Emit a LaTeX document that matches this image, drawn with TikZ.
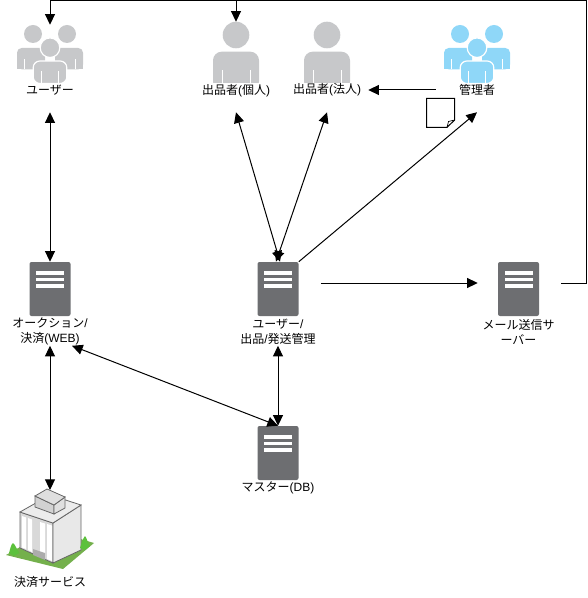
\documentclass[tikz,border=0pt]{standalone}
\usepackage{fontspec}
\setmainfont{Liberation Sans}
\newfontfamily\cjk{Noto Sans CJK JP}
\usetikzlibrary{arrows.meta,shapes.geometric}
\definecolor{srvgray}{HTML}{6D6E71}
\definecolor{usrgray}{HTML}{C7C8CA}
\definecolor{admblue}{HTML}{8FD7F8}
\definecolor{lawn}{HTML}{74B04C}
\definecolor{leaf}{HTML}{5CC13C}
\tikzset{
  lbl/.style={font=\fontsize{9pt}{11.25pt}\selectfont,align=center,inner sep=0pt,minimum width=61.5pt,minimum height=21pt},
  srvbox/.style={fill=srvgray,rounded corners=1.5pt,inner sep=0pt,minimum width=30.75pt,minimum height=40.5pt,
    path picture={\foreach \yy in {-17.7,-11.2,-4.7}{\fill[white,sharp corners] ([shift={(-14,\yy)}]path picture bounding box.center) rectangle ++(28,3.5);}}},
  iconbox/.style={inner sep=0pt,minimum width=49.5pt},
  oneway/.style={draw,line width=0.75pt,-{Triangle[length=8pt,width=7.5pt]}},
  twoway/.style={draw,line width=0.75pt,{Triangle[length=8pt,width=7.5pt]}-{Triangle[length=8pt,width=7.5pt]}},
  pics/group/.style={code={
    \fill[#1] (-17,34) circle (9);
    \fill[#1] (17,34) circle (9);
    \fill[#1,rounded corners=3.5pt] (-33,69.3) -- (-33,48) -- (-5,48) -- (-5,69.3) -- cycle;
    \fill[#1,rounded corners=3.5pt] (33,69.3) -- (33,48) -- (5,48) -- (5,69.3) -- cycle;
    \fill[#1,sharp corners] (-33,64) rectangle (-5,69.3);
    \fill[#1,sharp corners] (33,64) rectangle (5,69.3);
    \draw[white,line width=0.75pt] (-25.5,59) -- (-25.5,69.3) (25.5,59) -- (25.5,69.3);
    \filldraw[fill=#1,draw=white,line width=0.9pt,rounded corners=5pt] (-16.8,83.5) -- (-16.8,61) -- (16.8,61) -- (16.8,83.5) -- cycle;
    \fill[white] (-18,82.7) rectangle (18,85);
    \filldraw[fill=#1,draw=white,line width=0.9pt] (0,47.7) circle (9.8);
    \draw[white,line width=0.75pt] (-8.5,71) -- (-8.5,82.7) (8.5,71) -- (8.5,82.7);
  }},
  pics/single/.style={code={
    \fill[usrgray] (0,35) circle (13.3);
    \fill[usrgray,rounded corners=6.5pt] (-23,90) -- (-23,51.7) -- (23,51.7) -- (23,90) -- cycle;
    \fill[white] (-24,82.7) rectangle (24,91);
    \draw[white,line width=0.75pt] (-14,70) -- (-14,82.7) (14,70) -- (14,82.7);
  }}
}
\begin{document}
\begin{tikzpicture}[x=0.75pt,y=-0.75pt]
\useasboundingbox (0,0) rectangle (587,598);
\pic at (50,0) {group=usrgray};
\pic at (236,0) {single};
\pic at (327,0) {single};
\pic at (477,0) {group=admblue};
\node[iconbox,minimum height=65.25pt] (usr) at (50,68.5) {};
\node[iconbox,minimum height=67.5pt] (indv) at (236,67) {};
\node[iconbox,minimum height=67.5pt] (corp) at (327,67) {};
\node[iconbox,minimum height=67.5pt] (adm) at (477,67) {};
\node[lbl] (usrlbl) at (50,90.5) {{\cjk ユーザー}};
\node[lbl] (indvlbl) at (236,91) {{\cjk 出品者}({\cjk 個人})};
\node[lbl] (corplbl) at (327,90) {{\cjk 出品者}({\cjk 法人})};
\node[lbl] (admlbl) at (477,90) {{\cjk 管理者}};
\node[srvbox] (web) at (50,289) {};
\node[srvbox] (mgmt) at (278,289) {};
\node[srvbox] (mail) at (518.5,289) {};
\node[srvbox] (db) at (278,453) {};
\node[lbl] (weblbl) at (50,331.5) {{\cjk オークション}/\\{\cjk 決済}(WEB)};
\node[lbl] (mgmtlbl) at (278,331.5) {{\cjk ユーザー}/\\{\cjk 出品}/{\cjk 発送管理}};
\node[lbl] (maillbl) at (518.5,331.5) {{\cjk メール送信サ}\\{\cjk ーバー}};
\node[lbl] (dblbl) at (278,488) {{\cjk マスター}(DB)};
\node[lbl] (paylbl) at (50,582) {{\cjk 決済サービス}};
\coordinate (paytop) at (50,490);
\coordinate (topright) at (586.5,0.5);
\fill[lawn] (6,555) -- (50,530) -- (94,543) -- (63,569) -- cycle;
\filldraw[fill=gray!30,draw=gray!80!black,line width=0.6pt] (20,512) -- (53,523) -- (53,563) -- (20,548) -- cycle;
\filldraw[fill=gray!18,draw=gray!80!black,line width=0.6pt] (53,523) -- (81,505) -- (81,550) -- (53,563) -- cycle;
\fill[white] (22,516) -- (26,517.5) -- (26,549) -- (22,547.5) -- cycle;
\fill[white] (28,518) -- (32,519.5) -- (32,552) -- (28,550) -- cycle;
\fill[white] (40,522) -- (45,523.5) -- (45,558) -- (40,556) -- cycle;
\fill[white] (47,524) -- (52,525.5) -- (52,561) -- (47,559) -- cycle;
\fill[gray!65] (33,549) -- (45,553) -- (45,560) -- (33,555) -- cycle;
\fill[leaf] (9,553) .. controls (10,550) and (11,544) .. (13,543) .. controls (15,544) and (17,550) .. (19.5,553) -- (14,556) -- cycle;
\fill[leaf] (80,548) .. controls (81,545) and (83,538) .. (85,536) .. controls (87,538) and (88,544) .. (90,546) -- (85,550) -- cycle;
\filldraw[fill=gray!15,draw=gray!80!black,line width=0.6pt] (20,512) -- (53,523) -- (81,505) -- (50,495) -- cycle;
\filldraw[fill=gray!35,draw=gray!80!black,line width=0.6pt] (35,496) -- (54,505) -- (54,514) -- (35,507) -- cycle;
\filldraw[fill=gray!25,draw=gray!80!black,line width=0.6pt] (54,505) -- (65,497) -- (65,508) -- (54,514) -- cycle;
\filldraw[fill=gray!25,draw=gray!80!black,line width=0.6pt] (35,496) -- (47,489) -- (65,497) -- (54,505) -- cycle;
\draw[line width=0.75pt,fill=white] (426.7,98.3) -- (454.7,98.3) -- (454.7,120) -- (447,127.3) -- (426.7,127.3) -- cycle;
\draw[line width=0.5pt] (454.7,120) -- (448.5,121.5) -- (447,127.3);
\draw[oneway,shorten <=16.5pt] ([yshift=4.5pt]mail.east) -| (topright) -| (usr.north);
\draw[oneway] (indv.north |- topright) -- (indv.north);
\draw[twoway] (usr.south) -- (web.north);
\draw[twoway] (indv.south) -- ([xshift=1.5pt]mgmt.north);
\draw[twoway] (corp.south) -- ([xshift=-1.5pt]mgmt.north);
\draw[oneway] (mgmt.north east) -- (adm.south);
\draw[oneway,shorten <=16.5pt,shorten >=15pt] ([yshift=4.5pt]mgmt.east) -- ([yshift=4.5pt]mail.west);
\draw[oneway] (admlbl.west) -- (corplbl.east);
\draw[twoway] (weblbl.south) -- (paytop);
\draw[twoway] ([xshift=16.5pt]weblbl.south) -- (db.north);
\draw[twoway] (mgmtlbl.south) -- (db.north);
\end{tikzpicture}
\end{document}
